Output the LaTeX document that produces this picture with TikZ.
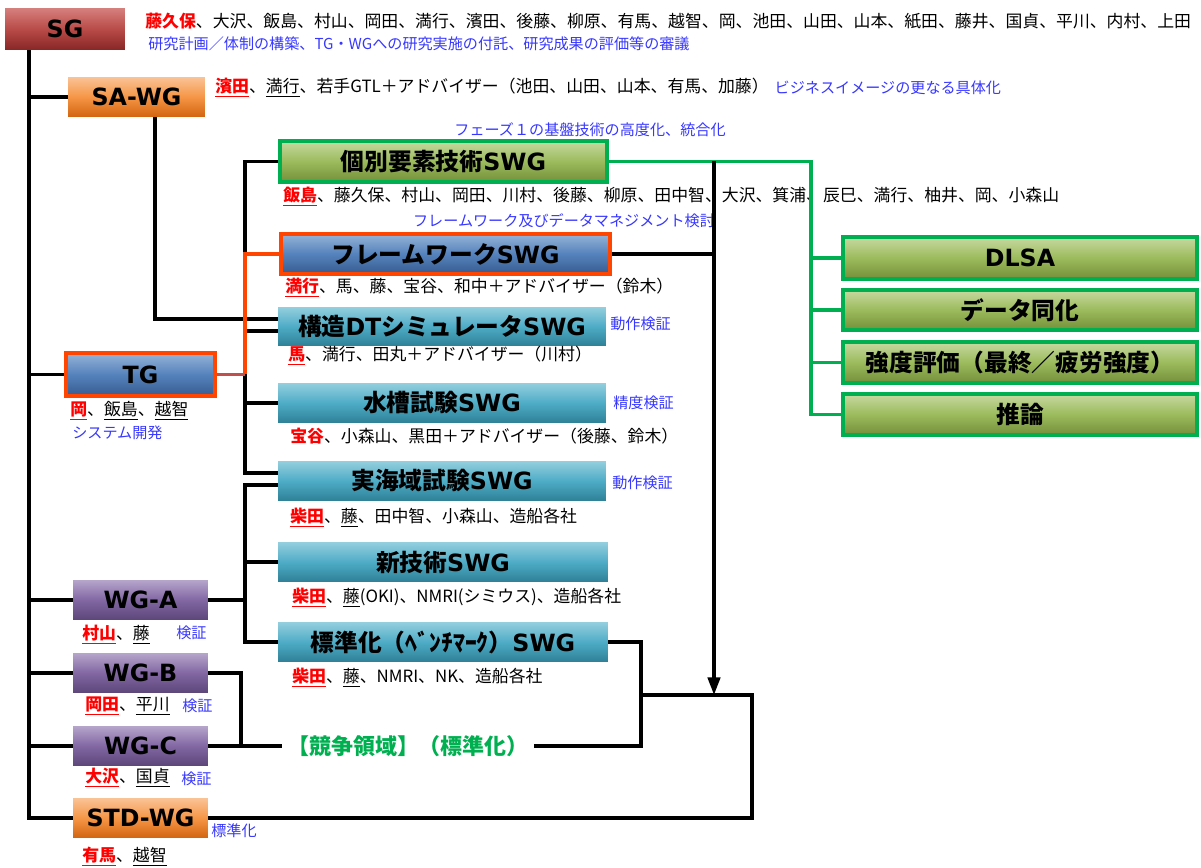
\documentclass[tikz,border=0pt]{standalone}
\usepackage{fontspec}
\setmainfont{Noto Sans CJK JP}
\newfontfamily\dv{DejaVu Sans}
\usetikzlibrary{arrows.meta,shadings}
\definecolor{sgT}{RGB}{214,128,126}
\definecolor{sgM}{RGB}{185,75,72}
\definecolor{sgB}{RGB}{135,38,38}
\definecolor{orT}{RGB}{250,195,150}
\definecolor{orM}{RGB}{245,150,70}
\definecolor{orB}{RGB}{210,100,15}
\definecolor{blT}{RGB}{150,180,215}
\definecolor{blM}{RGB}{85,130,188}
\definecolor{blB}{RGB}{55,92,145}
\definecolor{tlT}{RGB}{148,207,222}
\definecolor{tlM}{RGB}{78,172,198}
\definecolor{tlB}{RGB}{46,128,150}
\definecolor{gnT}{RGB}{198,217,160}
\definecolor{gnM}{RGB}{156,187,92}
\definecolor{gnB}{RGB}{116,143,58}
\definecolor{ppT}{RGB}{182,165,203}
\definecolor{ppM}{RGB}{130,103,163}
\definecolor{ppB}{RGB}{92,70,120}
\definecolor{gnL}{RGB}{0,176,80}
\definecolor{redor}{RGB}{255,69,0}
\definecolor{tgc}{RGB}{192,80,77}
\definecolor{bluet}{RGB}{55,55,255}
\newcommand\lat[1]{{\dv #1}}
\newcommand\rn[1]{\textcolor{red}{\bfseries\underline{#1}}}
\newcommand\un[1]{\underline{#1}}
\begin{document}
\begin{tikzpicture}[x=0.02cm,y=-0.02cm,
  box/.style={inner sep=0pt, font=\bfseries\fontsize{13.5}{16}\selectfont, text=black},
  sgbox/.style={box, top color=sgT, bottom color=sgB, middle color=sgM},
  orbox/.style={box, top color=orT, bottom color=orB, middle color=orM},
  blbox/.style={box, top color=blT, bottom color=blB, middle color=blM, draw=redor, line width=2.2pt},
  tlbox/.style={box, top color=tlT, bottom color=tlB, middle color=tlM},
  gnbox/.style={box, top color=gnT, bottom color=gnB, middle color=gnM, draw=gnL, line width=2.2pt},
  ppbox/.style={box, top color=ppT, bottom color=ppB, middle color=ppM},
  nm/.style={anchor=west, inner sep=0pt, font=\fontsize{9.6}{11}\selectfont},
  bt/.style={anchor=west, inner sep=0pt, text=bluet, font=\fontsize{8.6}{10}\selectfont},
  ln/.style={line width=2pt, black},
  gl/.style={line width=2pt, gnL},
  ol/.style={line width=2pt, redor}]
\useasboundingbox (0,0) rectangle (1201,868);
% coordinates
\coordinate (T) at (29,0);
\coordinate (S) at (155,0);
\coordinate (B) at (245,0);
\coordinate (D) at (241,0);
\coordinate (E) at (641,0);
\coordinate (F) at (752,695);
\coordinate (A) at (714,0);
\coordinate (G) at (811,0);
% boxes
\node[sgbox, minimum width=2.4cm, minimum height=0.84cm] (sg) at (65,29) {\lat{SG}};
\node[orbox, minimum width=2.74cm, minimum height=0.8cm] (sawg) at (136.5,97) {\lat{SA-WG}};
\node[gnbox, minimum width=6.54cm, minimum height=0.82cm] (ind) at (443.5,161.5) {個別要素技術\lat{SWG}};
\node[blbox, minimum width=6.58cm, minimum height=0.8cm] (fw) at (445.5,254) {フレームワーク\lat{SWG}};
\node[tlbox, minimum width=6.56cm, minimum height=0.78cm] (dt) at (442,326.5) {構造\lat{DT}シミュレータ\lat{SWG}};
\node[tlbox, minimum width=6.56cm, minimum height=0.8cm] (sui) at (442,403) {水槽試験\lat{SWG}};
\node[tlbox, minimum width=6.56cm, minimum height=0.8cm] (jk) at (442,481) {実海域試験\lat{SWG}};
\node[tlbox, minimum width=6.6cm, minimum height=0.8cm] (nt) at (443,562) {新技術\lat{SWG}};
\node[tlbox, minimum width=6.6cm, minimum height=0.8cm] (hy) at (443,642) {標準化（ﾍﾞﾝﾁﾏｰｸ）\lat{SWG}};
\node[blbox, minimum width=2.98cm, minimum height=0.86cm] (tg) at (140.5,374.5) {\lat{TG}};
\node[ppbox, minimum width=2.7cm, minimum height=0.8cm] (wga) at (140.5,600) {\lat{WG-A}};
\node[ppbox, minimum width=2.7cm, minimum height=0.8cm] (wgb) at (140.5,673) {\lat{WG-B}};
\node[ppbox, minimum width=2.7cm, minimum height=0.8cm] (wgc) at (140.5,746) {\lat{WG-C}};
\node[orbox, minimum width=2.7cm, minimum height=0.8cm] (std) at (140.5,818) {\lat{STD-WG}};
\node[gnbox, minimum width=7.08cm, minimum height=0.84cm] (dlsa) at (1020,258) {\lat{DLSA}};
\node[gnbox, minimum width=7.08cm, minimum height=0.8cm] (da) at (1020,310) {データ同化};
\node[gnbox, minimum width=7.08cm, minimum height=0.82cm] (kd) at (1020,362.5) {強度評価（最終／疲労強度）};
\node[gnbox, minimum width=7.08cm, minimum height=0.82cm] (inf) at (1020,414.5) {推論};
\node[inner sep=3pt, text=gnL, font=\bfseries\fontsize{12.5}{14}\selectfont] (ks) at (408,746) {【競争領域】（標準化）};
% texts
\node[nm] (sgn) at (145,21) {\textcolor{red}{\bfseries 藤久保}、大沢、飯島、村山、岡田、満行、濱田、後藤、柳原、有馬、越智、岡、池田、山田、山本、紙田、藤井、国貞、平川、内村、上田};
\node[bt] (sgd) at (148,44) {研究計画／体制の構築、TG・WGへの研究実施の付託、研究成果の評価等の審議};
\node[nm] (sawgn) at (215,88) {\rn{濱田}、\un{満行}、若手GTL＋アドバイザー（池田、山田、山本、有馬、加藤）};
\node[bt] (sawgd) at ([xshift=3pt]sawgn.east) {ビジネスイメージの更なる具体化};
\node[bt, anchor=center] (ph1) at (590,130) {フェーズ１の基盤技術の高度化、統合化};
\node[nm] (indn) at (283,197) {\rn{飯島}、藤久保、村山、岡田、川村、後藤、柳原、田中智、大沢、箕浦、辰巳、満行、柚井、岡、小森山};
\node[bt, anchor=center] (fwd) at (564,221) {フレームワーク及びデータマネジメント検討};
\node[nm] (fwn) at (285,288) {\rn{満行}、馬、藤、宝谷、和中＋アドバイザー（鈴木）};
\node[bt] (dtd) at (610,324) {動作検証};
\node[nm] (dtn) at (288,356) {\rn{馬}、満行、田丸＋アドバイザー（川村）};
\node[bt] (suid) at (613,403) {精度検証};
\node[nm] (suin) at (290,436) {\textcolor{red}{\bfseries 宝谷}、小森山、黒田＋アドバイザー（後藤、鈴木）};
\node[bt] (jkd) at (612,483) {動作検証};
\node[nm] (jkn) at (290,518) {\rn{柴田}、\un{藤}、田中智、小森山、造船各社};
\node[nm] (ntn) at (292,598) {\rn{柴田}、\un{藤}(OKI)、NMRI(シミウス)、造船各社};
\node[nm] (hyn) at (292,678) {\rn{柴田}、\un{藤}、NMRI、NK、造船各社};
\node[nm] (tgn) at (70,411) {\rn{岡}、\un{飯島}、\un{越智}};
\node[bt] (tgd) at (72,433) {システム開発};
\node[nm] (wgan) at (82,635) {\rn{村山}、\un{藤}};
\node[bt] (wgad) at (176,633) {検証};
\node[nm] (wgbn) at (85,706) {\rn{岡田}、\un{平川}};
\node[bt] (wgbd) at (182,706) {検証};
\node[nm] (wgcn) at (85,778) {\rn{大沢}、\un{国貞}};
\node[bt] (wgcd) at (181,779) {検証};
\node[bt] (stdd) at (211,831) {標準化};
\node[nm] (stdn) at (82,857) {\rn{有馬}、\un{越智}};
% helper coordinates
\coordinate (dt1) at ([yshift=4.2pt]dt.west);
\coordinate (dt2) at ([yshift=-2.6pt]dt.west);
\coordinate (jk1) at ([yshift=4.5pt]jk.west);
\coordinate (jk2) at ([yshift=-2.3pt]jk.west);
% connectors
\draw[ln] (sg.south -| T) -- (std.west -| T) -- (std.west);
\draw[ln] (sawg.west -| T) -- (sawg.west);
\draw[ln] (tg.west -| T) -- (tg.west);
\draw[ln] (wga.west -| T) -- (wga.west);
\draw[ln] (wgb.west -| T) -- (wgb.west);
\draw[ln] (wgc.west -| T) -- (wgc.west);
\draw[ln] (sawg.south -| S) |- (dt1);
\draw[ln] (ind.west) -- (B |- ind.west) -- (B |- jk1) -- (jk1);
\draw[ln] (B |- dt2) -- (dt2);
\draw[ln] (B |- sui.west) -- (sui.west);
\draw[line width=2pt, tgc] (tg.east) -- (B |- tg.east);
\draw[ol] (B |- tg.east) -- (B |- fw.west) -- (fw.west);
\draw[ln] (wga.east) -- (B |- wga.east);
\draw[ln] (jk2) -- (B |- jk2) -- (B |- hy.west) -- (hy.west);
\draw[ln] (B |- nt.west) -- (nt.west);
\draw[ln] (wgb.east) -- (D |- wgb.east) -- (D |- wgc.east);
\draw[ln] (wgc.east) -- (ks.west);
\draw[ln] (ks.east) -- (E |- ks.east) -- (E |- hy.east) -- (hy.east);
\draw[ln] (E |- F) -- (F) -- (F |- std.east) -- (std.east);
\draw[gl] (ind.east) -- (G |- ind.east) -- (G |- inf.west) -- (inf.west);
\draw[gl] (G |- dlsa.west) -- (dlsa.west);
\draw[gl] (G |- da.west) -- (da.west);
\draw[gl] (G |- kd.west) -- (kd.west);
\draw[ln] (fw.east) -- (A |- fw.east);
\draw[ln, -{Triangle[length=10pt,width=7pt]}] (A |- ind.east) -- (A |- F);
\end{tikzpicture}
\end{document}
